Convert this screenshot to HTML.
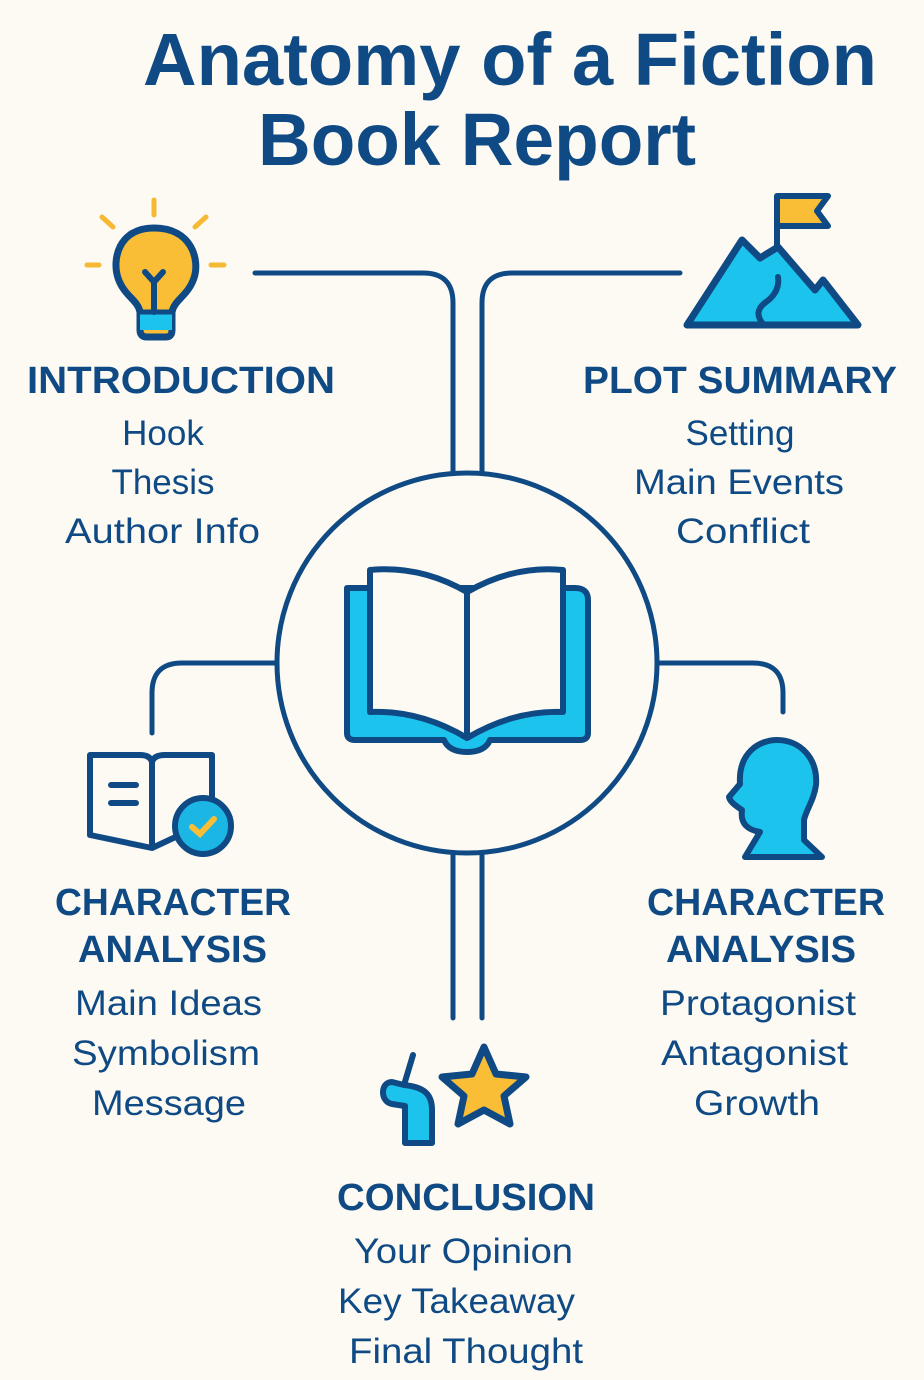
<!DOCTYPE html>
<html><head><meta charset="utf-8"><style>
html,body{margin:0;padding:0;background:#fcfaf3}
svg{display:block}
text{font-family:"Liberation Sans",sans-serif;fill:#0f4a85}
.h{font-weight:bold;font-size:38px}
.b{font-size:35px}
</style></head><body>
<svg width="924" height="1380" viewBox="0 0 924 1380" xmlns="http://www.w3.org/2000/svg">
<rect width="924" height="1380" fill="#fcfaf3"/>
<g font-weight="bold" font-size="74">
<text x="143" y="85" textLength="734" lengthAdjust="spacingAndGlyphs">Anatomy of a Fiction</text>
<text x="258" y="165" textLength="438" lengthAdjust="spacingAndGlyphs">Book Report</text>
</g>
<g fill="none" stroke="#0f4a85" stroke-width="5" stroke-linecap="round">
<path d="M255 273 H423 Q453 273 453 303 V472"/>
<path d="M680 273 H512 Q482 273 482 303 V472"/>
<path d="M276 663 H182 Q152 663 152 693 V733"/>
<path d="M659 663 H753 Q783 663 783 693 V712"/>
<path d="M453 855 V1018 M482 855 V1018"/>
<circle cx="467" cy="663" r="190"/>
</g>
<g stroke="#0f4a85" stroke-width="6" stroke-linejoin="round">
<path d="M347 588 H575 Q588 588 588 600 V733 Q588 740 580 740 H490 Q485 752 467 752 Q449 752 444 740 H355 Q347 740 347 733 Z" fill="#1cc3ec"/>
<path d="M370 570 Q420 565 467 592 Q514 565 563 570 V712 Q514 710 467 738 Q420 710 370 712 Z" fill="#fcfaf3"/>
<path d="M467 592 V738" fill="none"/>
</g>
<g stroke="#f6b933" stroke-width="5" stroke-linecap="round">
<path d="M154 200 V215 M102 217 L113 227 M206 217 L195 227 M87 265 H99 M211 265 H224"/>
</g>
<path d="M154 228 C118 228 112 260 118 278 C124 296 138 300 140 312 V330 Q140 337 147 337 H166 Q172 337 172 330 V312 C174 300 188 296 194 278 C200 260 192 228 154 228 Z" fill="#f9bd36" stroke="#0f4a85" stroke-width="7"/>
<path d="M140 314 H172 V330 H140 Z" fill="#1cc3ec"/>
<path d="M140 312 H172" stroke="#0f4a85" stroke-width="5"/>
<path d="M154 312 V282 M145 272 L154 282 L163 272" fill="none" stroke="#0f4a85" stroke-width="6" stroke-linecap="round"/>
<!-- mountain -->
<path d="M777 196 V252" stroke="#0f4a85" stroke-width="6"/>
<path d="M777 196 H828 L817 211 L828 226 H777 Z" fill="#f9bd36" stroke="#0f4a85" stroke-width="6" stroke-linejoin="round"/>
<path d="M687 325 L742 240 L760 258 L778 247 L815 290 L823 280 L858 325 Z" fill="#1cc3ec" stroke="#0f4a85" stroke-width="7" stroke-linejoin="round"/>
<path d="M778 277 Q780 292 766 302 Q752 312 764 325" fill="none" stroke="#0f4a85" stroke-width="6" stroke-linecap="round"/>
<g fill="none" stroke="#0f4a85" stroke-width="6" stroke-linejoin="round" stroke-linecap="round">
<path d="M90 755 H140 Q150 755 152 762 Q154 755 165 755 H212 V820 L152 848 L90 835 Z" fill="#fcfaf3"/>
<path d="M152 762 V845"/>
<path d="M111 785 H136 M111 803 H136"/>
</g>
<circle cx="203" cy="826" r="28" fill="#1cb6e4" stroke="#0f4a85" stroke-width="6"/>
<path d="M192 827 L200 834 L214 819" fill="none" stroke="#f9bd36" stroke-width="6" stroke-linecap="round"/>
<path d="M745 857 L760 832 C748 830 740 824 742 810 C736 806 730 802 729 797 L740 784 C738 752 760 740 777 740 C800 740 818 758 816 785 C814 800 806 810 804 820 L804 840 L822 857 Z" fill="#1cc3ec" stroke="#0f4a85" stroke-width="6" stroke-linejoin="round"/>
<path d="M413 1055 L404 1085 M404 1085 L392 1082 C380 1082 380 1102 392 1104 L405 1106 V1143 H432 V1110 C432 1094 424 1087 404 1085" fill="#1cc3ec" stroke="#0f4a85" stroke-width="6" stroke-linejoin="round" stroke-linecap="round"/>
<path d="M484 1047 L496 1074 L526 1077 L504 1096 L510 1124 L484 1110 L458 1124 L464 1096 L442 1077 L472 1074 Z" fill="#f9bd36" stroke="#0f4a85" stroke-width="7" stroke-linejoin="round"/>
<text class="h" x="27" y="393" textLength="308" lengthAdjust="spacingAndGlyphs">INTRODUCTION</text>
<text class="b" x="163" y="445" text-anchor="middle">Hook</text>
<text class="b" x="163" y="494" text-anchor="middle">Thesis</text>
<text class="b" x="65" y="543" textLength="195" lengthAdjust="spacingAndGlyphs">Author Info</text>
<text class="h" x="583" y="393" textLength="314" lengthAdjust="spacingAndGlyphs">PLOT SUMMARY</text>
<text class="b" x="740" y="445" text-anchor="middle">Setting</text>
<text class="b" x="634" y="494" textLength="210" lengthAdjust="spacingAndGlyphs">Main Events</text>
<text class="b" x="676" y="543" textLength="134" lengthAdjust="spacingAndGlyphs">Conflict</text>
<text class="h" x="55" y="915" textLength="236" lengthAdjust="spacingAndGlyphs">CHARACTER</text>
<text class="h" x="78" y="962" textLength="189" lengthAdjust="spacingAndGlyphs">ANALYSIS</text>
<text class="b" x="75" y="1015" textLength="187" lengthAdjust="spacingAndGlyphs">Main Ideas</text>
<text class="b" x="72" y="1065" textLength="188" lengthAdjust="spacingAndGlyphs">Symbolism</text>
<text class="b" x="92" y="1115" textLength="154" lengthAdjust="spacingAndGlyphs">Message</text>
<text class="h" x="647" y="915" textLength="238" lengthAdjust="spacingAndGlyphs">CHARACTER</text>
<text class="h" x="666" y="962" textLength="190" lengthAdjust="spacingAndGlyphs">ANALYSIS</text>
<text class="b" x="660" y="1015" textLength="196" lengthAdjust="spacingAndGlyphs">Protagonist</text>
<text class="b" x="661" y="1065" textLength="187" lengthAdjust="spacingAndGlyphs">Antagonist</text>
<text class="b" x="694" y="1115" textLength="126" lengthAdjust="spacingAndGlyphs">Growth</text>
<text class="h" x="337" y="1210" textLength="258" lengthAdjust="spacingAndGlyphs">CONCLUSION</text>
<text class="b" x="354" y="1263" textLength="219" lengthAdjust="spacingAndGlyphs">Your Opinion</text>
<text class="b" x="338" y="1313" textLength="237" lengthAdjust="spacingAndGlyphs">Key Takeaway</text>
<text class="b" x="349" y="1363" textLength="234" lengthAdjust="spacingAndGlyphs">Final Thought</text>
</svg>
</body></html>
